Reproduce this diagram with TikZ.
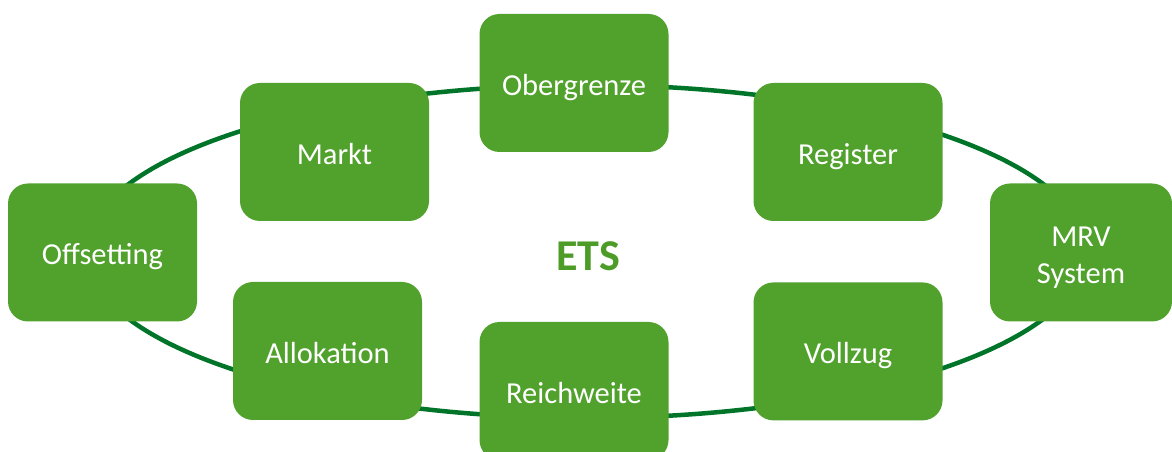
\documentclass[tikz,border=0pt]{standalone}
\usepackage{fontspec}
\setmainfont{Carlito}
\usepackage{tikz}
\usetikzlibrary{positioning}
\definecolor{boxgreen}{RGB}{81,161,45}
\definecolor{ringgreen}{RGB}{0,117,42}
\definecolor{etsgreen}{RGB}{78,156,40}

\begin{document}
\begin{tikzpicture}
[
x=1pt, y=1pt,
box-a/.style={rectangle, rounded corners=20pt, fill=boxgreen, text=white,
  minimum width=189pt, minimum height=138pt, inner sep=0pt, align=center,
  font=\fontsize{30.5}{37}\selectfont, text height=25pt, text depth=0pt},
text-a/.style={text=etsgreen, font=\fontsize{44}{50}\selectfont\bfseries},
ring-a/.style={draw=ringgreen, line width=4.5pt},
]
\useasboundingbox (0,0) rectangle (1172,452);
\clip (0,0) rectangle (1172,452);
% ring behind the boxes
\draw [ring-a] (586,200.5) ellipse [x radius=500pt, y radius=166.5pt];
\node (ets) [text-a] at (588,196) {ETS};
\node (b1) [box-a] at (574,369)      {Obergrenze};
\node (b2) [box-a] at (848,300)      {Register};
\node (b3) [box-a, minimum width=182pt, text height=63pt, text depth=0pt]
                   at (1081,199.5)   {MRV\\System};
\node (b4) [box-a, below = 61pt of b2] {Vollzug};
\node (b5) [box-a] at (574,61)       {Reichweite};
\node (b6) [box-a] at (327.5,101)    {Allokation};
\node (b7) [box-a] at (102.5,199.5)  {Offsetting};
\node (b8) [box-a] at (334.5,300)    {Markt};
\end{tikzpicture}
\end{document}
